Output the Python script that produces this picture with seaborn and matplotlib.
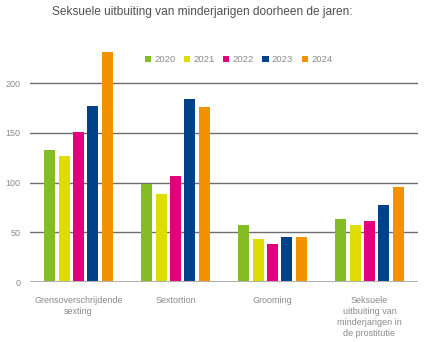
import matplotlib
matplotlib.use("Agg")
import matplotlib.pyplot as plt
import seaborn as sns
import pandas as pd

categories = ["Grensoverschrijdende\nsexting", "Sextortion", "Grooming",
              "Seksuele\nuitbuiting van\nminderjarigen in\nde prostitutie"]
years = ["2020", "2021", "2022", "2023", "2024"]
v2020 = [133, 99, 57, 63]
v2021 = [127, 89, 43, 57]
v2022 = [151, 107, 38, 61]
v2023 = [177, 184, 45, 77]
v2024 = [231, 176, 45, 96]
yticks = [0, 50, 100, 150, 200]
colors = ["#84BC26", "#DEDC00", "#E4007D", "#00428A", "#F39200"]

rows = []
for y, vals in zip(years, [v2020, v2021, v2022, v2023, v2024]):
    for c, v in zip(categories, vals):
        rows.append({"cat": c, "year": y, "value": v})
df = pd.DataFrame(rows)

sns.set_theme(style="white")
plt.rcParams["font.family"] = ["Liberation Sans", "DejaVu Sans"]

fig = plt.figure(figsize=(4.27, 3.42), dpi=100)
ax = fig.add_axes([30/427, 1-282/342, 388/427, (282-43.4)/342])

sns.barplot(data=df, x="cat", y="value", hue="year", palette=colors,
            width=0.74, gap=0.25, ax=ax, saturation=1, legend=True,
            errorbar=None, linewidth=0, zorder=2)

ax.set_ylim(0, 240)
ax.set_xlim(-0.5, 3.5)
ax.set_yticks(yticks)
ax.set_axisbelow(True)
ax.yaxis.grid(True, color="#6e6e6e", lw=1.0)
ax.xaxis.grid(False)
ax.axhline(0, color="#b0b0b0", lw=2.2, zorder=3)
for s in ax.spines.values():
    s.set_visible(False)
ax.set_xlabel("")
ax.set_ylabel("")
ax.tick_params(axis="both", length=0, labelsize=6.5, labelcolor="#8a8a8a")
ax.tick_params(axis="y", pad=7)
ax.tick_params(axis="x", pad=10)
for lab in ax.get_xticklabels():
    lab.set_linespacing(1.3)
    lab.set_va("top")

leg = ax.legend(loc="center left", bbox_to_anchor=(110/388, 1-(60-43.4)/238.6),
                ncol=5, frameon=False,
                fontsize=6.8, handlelength=0.65, handleheight=0.65, handletextpad=0.35,
                columnspacing=0.9, labelcolor="#8a8a8a", borderpad=0)

fig.text(52/427, 1-12/342, "Seksuele uitbuiting van minderjarigen doorheen de jaren:",
         fontsize=8.6, color="#505050", ha="left", va="center")

fig.savefig("out.png", dpi=100)
